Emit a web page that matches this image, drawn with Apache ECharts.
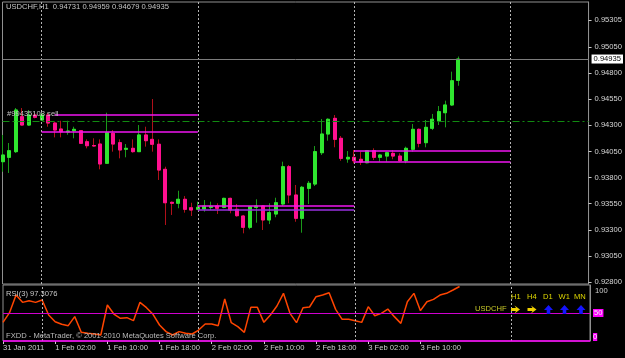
<!DOCTYPE html>
<html><head><meta charset="utf-8">
<script src="https://cdn.jsdelivr.net/npm/echarts@6/dist/echarts.min.js"></script>
<style>html,body{margin:0;padding:0;background:#000;}#c{width:625px;height:358px;}</style>
</head><body><div id="c"></div>
<script>
// ---------------- data ----------------
const symbol = 'USDCHF', period = 'H1';
const startTime = Date.UTC(2011, 0, 31, 18); // first visible bar
const barCount = 91;                          // visible hourly slots (incl. right shift)

const opens = [0.93952,0.93994,0.94048,0.94383,0.94303,0.94399,0.94351,0.94399,0.94322,0.94265,
0.94236,0.94249,0.94249,0.94143,0.94107,0.94121,0.93937,0.94224,0.94134,0.94071,
0.94080,0.94048,0.94208,0.94166,0.94119,0.93879,0.93563,0.93554,0.93592,0.93511,
0.93496,0.93499,0.93515,0.93528,0.93515,0.93601,0.93496,0.93432,0.93324,0.93515,
0.93528,0.93394,0.93451,0.93547,0.93904,0.93633,0.93410,0.93697,0.93738,0.94038,
0.94217,0.94367,0.94176,0.93978,0.93994,0.93975,0.93942,0.94057,0.93994,0.94006,
0.94032,0.94006,0.93961,0.94071,0.94262,0.94134,0.94272,0.94344,0.94421,0.94495,
0.94731];
const highs = [0.94208,0.94131,0.94466,0.94466,0.94447,0.94421,0.94418,0.94418,0.94335,0.94344,
0.94344,0.94287,0.94255,0.94166,0.94176,0.94166,0.94421,0.94255,0.94166,0.94121,
0.94166,0.94303,0.94287,0.94552,0.94166,0.93904,0.93571,0.93674,0.93623,0.93559,
0.93569,0.93585,0.93569,0.93554,0.93607,0.93607,0.93547,0.93442,0.93528,0.93592,
0.93537,0.93554,0.93607,0.93952,0.93920,0.93729,0.93719,0.93767,0.94102,0.94361,
0.94367,0.94399,0.94198,0.94054,0.94064,0.94048,0.94064,0.94080,0.94026,0.94048,
0.94064,0.94032,0.94096,0.94313,0.94270,0.94351,0.94409,0.94485,0.94536,0.94814,
0.94959];
const lows = [0.93856,0.93844,0.94035,0.94298,0.94294,0.94367,0.94342,0.94287,0.94185,0.94185,
0.94210,0.94176,0.94121,0.94080,0.94096,0.93879,0.93930,0.94048,0.93984,0.93994,
0.94038,0.94045,0.94096,0.94048,0.93777,0.93346,0.93442,0.93506,0.93464,0.93432,
0.93489,0.93473,0.93489,0.93451,0.93506,0.93458,0.93425,0.93266,0.93305,0.93368,
0.93298,0.93355,0.93420,0.93528,0.93554,0.93377,0.93272,0.93547,0.93719,0.94016,
0.94153,0.94090,0.93961,0.93942,0.93937,0.93920,0.93937,0.93968,0.93952,0.93952,
0.93975,0.93952,0.93937,0.94048,0.94090,0.94090,0.94255,0.94303,0.94281,0.94485,
0.94679];
const closes = [0.94016,0.94057,0.94447,0.94303,0.94399,0.94377,0.94399,0.94322,0.94255,0.94239,
0.94246,0.94262,0.94128,0.94105,0.94102,0.93930,0.94230,0.94121,0.94064,0.94080,
0.94048,0.94208,0.94153,0.94119,0.93872,0.93559,0.93554,0.93592,0.93496,0.93489,
0.93515,0.93528,0.93525,0.93506,0.93601,0.93489,0.93435,0.93324,0.93521,0.93528,
0.93394,0.93464,0.93559,0.93904,0.93633,0.93410,0.93707,0.93745,0.94048,0.94217,
0.94358,0.94166,0.93984,0.93994,0.93961,0.93949,0.94057,0.93994,0.94016,0.94038,
0.94006,0.93961,0.94080,0.94262,0.94128,0.94281,0.94358,0.94431,0.94495,0.94727,
0.94935];
const rsiPeriod = 3;
const rsi = [33.3,50.6,82.1,69.0,72.0,69.0,73.2,46.4,34.5,29.8,
27.4,43.5,15.5,13.7,12.5,10.7,64.3,48.2,40.5,41.7,
36.3,69.0,59.5,47.6,28.6,16.7,10.7,16.7,13.7,12.5,
19.6,30.4,30.4,27.4,75.0,32.7,25.6,15.5,60.1,60.1,
33.3,46.4,62.5,85.1,49.4,32.7,59.5,60.7,79.2,82.1,
86.3,56.5,38.7,38.7,36.3,33.3,61.3,45.2,49.4,57.1,
43.5,31.5,70.2,85.1,54.2,70.2,74.4,82.1,85.1,91.1,
97.3076];

const priceTicks = [0.928,0.9305,0.933,0.9355,0.938,0.9405,0.943,0.9455,0.948,0.9505,0.95305];
const rsiTicks = [0,50,100];
const rsiLevels = [50, 0];
const xTicks = [
  ['2011.01.31 18:00','31 Jan 2011'],
  ['2011.02.01 02:00','1 Feb 02:00'],
  ['2011.02.01 10:00','1 Feb 10:00'],
  ['2011.02.01 18:00','1 Feb 18:00'],
  ['2011.02.02 02:00','2 Feb 02:00'],
  ['2011.02.02 10:00','2 Feb 10:00'],
  ['2011.02.02 18:00','2 Feb 18:00'],
  ['2011.02.03 02:00','3 Feb 02:00'],
  ['2011.02.03 10:00','3 Feb 10:00']
];
const separators = ['2011.02.01 00:00','2011.02.02 00:00','2011.02.03 00:00','2011.02.04 00:00'];
const segFrom = ['2011.02.01 02:00','2011.02.01 00:00','2011.02.02 00:00','2011.02.02 00:00','2011.02.03 00:00','2011.02.03 00:00'];
const segTo   = ['2011.02.02 00:00','2011.02.02 00:00','2011.02.03 00:00','2011.02.03 00:00','2011.02.04 00:00','2011.02.04 00:00'];
const segPrice = [0.94402,0.94236,0.93528,0.93492,0.94057,0.93949];
const segColor = ['#f014f0','#f014f0','#f014f0','#9a30e0','#f014f0','#f014f0'];
const dashLevel = 0.94339;
const orderLabel = '#99435108 sell';
const tfNames = ['H1','H4','D1','W1','MN'];
const tfSignals = ['right','right','up','up','up'];

// ---------------- build ----------------
function fmt(t){const d=new Date(t);const p=n=>String(n).padStart(2,'0');
  return d.getUTCFullYear()+'.'+p(d.getUTCMonth()+1)+'.'+p(d.getUTCDate())+' '+p(d.getUTCHours())+':00';}
const categories = [];
for (let i=0;i<barCount;i++) categories.push(fmt(startTime + i*3600000));
const tickMap = {}; xTicks.forEach(t=>tickMap[t[0]]=t[1]);
const firstCat = categories[0], lastCat = categories[categories.length-1];

const candleData = opens.map((o,i)=>[o, closes[i], lows[i], highs[i]]);
const bodyData = opens.map((o,i)=>[o, closes[i], Math.min(o,closes[i]), Math.max(o,closes[i])]);
const last = closes.length-1;
const bid = closes[last];

const FONT = 'Liberation Sans';
const FS = 7.6;
const bullBody='#2fe62f', bullWick='#1a9a1a', bearBody='#ff1090', bearWick='#b0101a';
const sepStyle = {color:'#b4b4b4', type:[2,2], width:1};

const mainMarks = [];
separators.forEach(s=>mainMarks.push({xAxis:s, lineStyle:sepStyle}));
mainMarks.push([{coord:[firstCat,dashLevel], lineStyle:{color:'#118a11', type:[7,3,2,3], width:1.2}},{coord:[lastCat,dashLevel]}]);
segPrice.forEach((p,i)=>mainMarks.push([{coord:[segFrom[i],p], lineStyle:{color:segColor[i], width:1.5, type:'solid'}},{coord:[segTo[i],p]}]));
mainMarks.push([{coord:[firstCat,bid], lineStyle:{color:'#7c7c7c', width:1, type:'solid'},
  label:{show:true, position:'end', formatter:()=>bid.toFixed(5), backgroundColor:'#ffffff', color:'#000',
         fontSize:FS, fontFamily:FONT, padding:[1,2,0,2], distance:3}},{coord:[lastCat,bid]}]);

const rsiMarks = [];
separators.forEach(s=>rsiMarks.push({xAxis:s, lineStyle:sepStyle}));
rsiMarks.push([{coord:[firstCat,rsiLevels[0]], lineStyle:{color:'#d000d0', width:1, type:'solid'}},{coord:[lastCat,rsiLevels[0]]}]);
rsiMarks.push([{coord:[firstCat,rsiLevels[1]], lineStyle:{color:'#ff00ff', width:1.6, type:'solid'}},{coord:[lastCat,rsiLevels[1]]}]);

const txt = {color:'#c8c8c8', fontSize:FS, fontWeight:'normal', fontFamily:FONT};

// arrow glyph outlines (decoration, relative to glyph centre)
const upArrow = [[-4.5,0.5],[0,-4.5],[4.5,0.5],[1.8,0.5],[1.8,4.5],[-1.8,4.5],[-1.8,0.5]];
const rightArrow = [[-1,-4],[4.5,0],[-1,4],[0.5,1.5],[-4.5,1.5],[-4.5,-1.5],[0.5,-1.5]];

const graphic = [
  {type:'text', x:7, y:114, z:50, style:{text:orderLabel, fill:'#c4c4c4', font:FS+'px "'+FONT+'"', verticalAlign:'middle', align:'left'}},
  {type:'text', x:475, y:309, z:50, style:{text:symbol, fill:'#c8c828', font:FS+'px "'+FONT+'"', verticalAlign:'middle', align:'left'}}
];
const tfX = [511, 527, 543, 558.5, 574];
const arX = [515.5, 532, 548.5, 564.5, 581];
tfNames.forEach((n,i)=>{
  graphic.push({type:'text', x:tfX[i], y:296.7, z:50, style:{text:n, fill:'#e0d800', font:FS+'px "'+FONT+'"', verticalAlign:'middle', align:'left'}});
  const up = tfSignals[i]==='up';
  graphic.push({type:'polygon', x:arX[i], y:309.5, z:50, shape:{points: up?upArrow:rightArrow},
    style:{fill: up?'#1414ff':'#f0d000', stroke:null}});
});

const chart = echarts.init(document.getElementById('c'), null, {renderer:'canvas'});
chart.setOption({
  backgroundColor:'#000000',
  animation:false,
  title:[
    {text:`${symbol},${period}  ${opens[last].toFixed(5)} ${highs[last].toFixed(5)} ${lows[last].toFixed(5)} ${closes[last].toFixed(5)}`, left:6, top:3, padding:0, textStyle:txt},
    {text:`RSI(${rsiPeriod}) ${rsi[last].toFixed(4)}`, left:6, top:289.5, padding:0, textStyle:txt},
    {text:'FXDD - MetaTrader, © 2001-2010 MetaQuotes Software Corp.', left:6, top:332, padding:0, textStyle:Object.assign({}, txt, {color:'#bcbcbc'})}
  ],
  graphic: graphic,
  grid:[
    {left:2.5, top:2, width:587.5, height:282, show:true, borderColor:'#909090', borderWidth:1, backgroundColor:'transparent'},
    {left:2.5, top:285, width:587.5, height:56, show:true, borderColor:'#909090', borderWidth:1, backgroundColor:'transparent'}
  ],
  xAxis:[
    {type:'category', gridIndex:0, data:categories, boundaryGap:false,
     axisLine:{show:false}, axisTick:{show:false}, axisLabel:{show:false}, splitLine:{show:false}},
    {type:'category', gridIndex:1, data:categories, boundaryGap:false,
     axisLine:{show:false},
     axisTick:{show:true, length:3, interval:(i,v)=>tickMap[v]!==undefined, lineStyle:{color:'#d0d0d0'}},
     axisLabel:{show:true, interval:(i,v)=>tickMap[v]!==undefined, formatter:v=>tickMap[v]||'', align:'left',
                color:'#d0d0d0', fontSize:FS, fontFamily:FONT, margin:3},
     splitLine:{show:false}}
  ],
  yAxis:[
    {type:'value', gridIndex:0, position:'right', min:0.92781, max:0.95481, scale:true,
     axisLine:{show:true, onZero:false, lineStyle:{color:'#909090'}},
     axisTick:{show:true, length:3, customValues:priceTicks, lineStyle:{color:'#c8c8c8'}},
     axisLabel:{show:true, customValues:priceTicks, formatter:v=>v.toFixed(5), color:'#d8d8d8', fontSize:FS, fontFamily:FONT, margin:6},
     splitLine:{show:false}},
    {type:'value', gridIndex:1, position:'right', min:0, max:100,
     axisLine:{show:true, onZero:false, lineStyle:{color:'#909090'}},
     axisTick:{show:false},
     axisLabel:{show:true, customValues:rsiTicks, margin:3, color:'#d0d0d0', fontSize:FS, fontFamily:FONT,
       formatter:v=> v===100 ? '{gap| }\n{t|100}' : v===50 ? '{m|50}' : '{m0|0}\n{gap2| }',
       rich:{
         gap:{height:12, fontSize:2},
         gap2:{height:8, fontSize:2},
         t:{color:'#d0d0d0', fontSize:FS, fontFamily:FONT, padding:[0,0,0,2]},
         m:{color:'#f4f4f4', backgroundColor:'#ff00ff', fontSize:FS, fontFamily:FONT, padding:[0,1,0,1], lineHeight:8.5},
         m0:{color:'#f4f4f4', backgroundColor:'#ff00ff', fontSize:FS, fontFamily:FONT, padding:[0,0,0,0], lineHeight:9}
       }},
     splitLine:{show:false}}
  ],
  series:[
    {type:'candlestick', name:'wick', xAxisIndex:0, yAxisIndex:0, data:candleData, barWidth:3.5, clip:false,
     itemStyle:{color:bullBody, color0:bearBody, borderColor:bullWick, borderColor0:bearWick, borderWidth:1},
     markLine:{silent:true, symbol:['none','none'], label:{show:false}, data:mainMarks, animation:false}},
    {type:'candlestick', name:'body', xAxisIndex:0, yAxisIndex:0, data:bodyData, barWidth:3.5, clip:false,
     itemStyle:{color:bullBody, color0:bearBody, borderColor:bullBody, borderColor0:bearBody, borderWidth:1}},
    {type:'line', name:'RSI', xAxisIndex:1, yAxisIndex:1, data:rsi, showSymbol:false, symbol:'none',
     lineStyle:{color:'#ff4500', width:1.5},
     markLine:{silent:true, symbol:['none','none'], label:{show:false}, data:rsiMarks, animation:false}}
  ]
});
</script></body></html>
